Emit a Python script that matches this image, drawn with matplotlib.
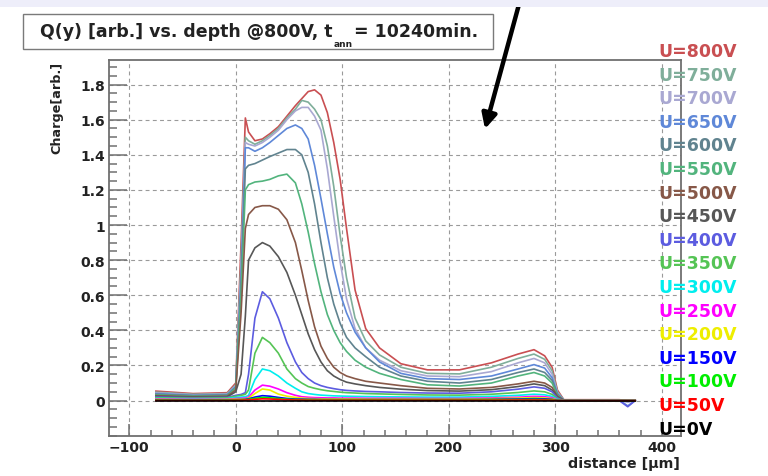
import numpy as np
import matplotlib
matplotlib.use("Agg")
import matplotlib.pyplot as plt
from matplotlib.patches import Rectangle
from matplotlib.text import Annotation
from matplotlib.ticker import MultipleLocator

plt.rcParams['font.family'] = ['DejaVu Sans']
plt.rcParams['font.weight'] = 'bold'

W, H = 768, 477

# ---- charge profiles vs depth (arb. units), one per bias voltage ----
depth = [-75, -40, -8, 0, 5, 9, 12, 18, 25, 32, 40, 48, 56, 62, 68, 74, 80, 86, 92, 98,
         104, 112, 122, 135, 155, 180, 210, 240, 265, 280, 290, 297, 302, 308, 360, 368, 375]

q800 = [0.054, 0.040, 0.045, 0.10, 0.90, 1.61, 1.53, 1.48, 1.49, 1.52, 1.56, 1.62, 1.68, 1.72, 1.76, 1.77, 1.74, 1.64, 1.47, 1.26,
        0.98, 0.63, 0.41, 0.30, 0.21, 0.175, 0.175, 0.215, 0.265, 0.29, 0.255, 0.19, 0.06, 0.005, 0.005, 0.0, 0.0]
q750 = [0.048, 0.036, 0.040, 0.09, 0.80, 1.50, 1.48, 1.46, 1.48, 1.51, 1.55, 1.61, 1.66, 1.71, 1.70, 1.66, 1.60, 1.45, 1.22, 0.94,
        0.70, 0.47, 0.34, 0.26, 0.19, 0.155, 0.152, 0.19, 0.24, 0.265, 0.235, 0.17, 0.05, 0.004, 0.004, 0.0, 0.0]
q700 = [0.044, 0.033, 0.037, 0.085, 0.75, 1.47, 1.46, 1.45, 1.47, 1.50, 1.54, 1.60, 1.65, 1.67, 1.67, 1.62, 1.54, 1.32, 1.05, 0.79,
        0.58, 0.41, 0.30, 0.23, 0.17, 0.14, 0.136, 0.165, 0.215, 0.24, 0.215, 0.15, 0.045, 0.003, 0.003, -0.01, 0.0]
q650 = [0.040, 0.030, 0.034, 0.08, 0.70, 1.44, 1.44, 1.42, 1.44, 1.47, 1.51, 1.55, 1.57, 1.55, 1.49, 1.34, 1.15, 0.95, 0.76, 0.61,
        0.50, 0.39, 0.30, 0.22, 0.155, 0.125, 0.12, 0.14, 0.18, 0.205, 0.185, 0.13, 0.04, 0.003, 0.003, -0.03, 0.0]
q600 = [0.036, 0.028, 0.031, 0.075, 0.65, 1.32, 1.34, 1.35, 1.37, 1.39, 1.41, 1.43, 1.43, 1.40, 1.30, 1.12, 0.90, 0.70, 0.55, 0.44,
        0.36, 0.30, 0.25, 0.19, 0.14, 0.11, 0.10, 0.12, 0.16, 0.18, 0.16, 0.115, 0.035, 0.002, 0.002, 0.0, 0.0]
q550 = [0.032, 0.025, 0.028, 0.07, 0.60, 1.20, 1.23, 1.245, 1.25, 1.26, 1.28, 1.29, 1.24, 1.12, 0.96, 0.78, 0.62, 0.49, 0.40, 0.33,
        0.28, 0.23, 0.19, 0.155, 0.12, 0.09, 0.083, 0.10, 0.14, 0.16, 0.14, 0.10, 0.03, 0.002, 0.002, 0.0, 0.0]
q500 = [0.028, 0.022, 0.025, 0.06, 0.50, 0.98, 1.06, 1.10, 1.11, 1.11, 1.09, 1.03, 0.90, 0.74, 0.57, 0.42, 0.31, 0.24, 0.19, 0.16,
        0.14, 0.125, 0.11, 0.10, 0.085, 0.07, 0.066, 0.075, 0.095, 0.11, 0.10, 0.075, 0.025, 0.002, 0.002, 0.0, 0.0]
q450 = [0.024, 0.019, 0.021, 0.05, 0.15, 0.48, 0.80, 0.87, 0.90, 0.88, 0.82, 0.73, 0.60, 0.49, 0.38, 0.29, 0.22, 0.17, 0.14, 0.12,
        0.105, 0.095, 0.085, 0.075, 0.065, 0.057, 0.054, 0.062, 0.08, 0.095, 0.085, 0.06, 0.02, 0.001, 0.001, 0.0, 0.0]
q400 = [0.020, 0.016, 0.018, 0.03, 0.035, 0.045, 0.15, 0.47, 0.62, 0.58, 0.47, 0.33, 0.22, 0.16, 0.125, 0.10, 0.085, 0.075, 0.068, 0.062,
        0.058, 0.055, 0.052, 0.05, 0.046, 0.043, 0.042, 0.05, 0.065, 0.078, 0.07, 0.05, 0.015, 0.0, 0.0, -0.035, 0.0]
q350 = [0.016, 0.013, 0.015, 0.025, 0.03, 0.035, 0.06, 0.27, 0.36, 0.33, 0.27, 0.18, 0.125, 0.10, 0.08, 0.07, 0.062, 0.056, 0.052, 0.048,
        0.045, 0.043, 0.04, 0.038, 0.035, 0.032, 0.031, 0.036, 0.046, 0.055, 0.05, 0.035, 0.01, 0.0, 0.0, 0.0, 0.0]
q300 = [0.012, 0.010, 0.011, 0.018, 0.02, 0.022, 0.03, 0.12, 0.18, 0.17, 0.14, 0.10, 0.07, 0.05, 0.04, 0.035, 0.031, 0.029, 0.027, 0.026,
        0.025, 0.024, 0.023, 0.022, 0.021, 0.02, 0.02, 0.024, 0.03, 0.036, 0.033, 0.024, 0.007, 0.0, 0.0, 0.0, 0.0]
q250 = [0.009, 0.007, 0.008, 0.012, 0.013, 0.014, 0.02, 0.06, 0.088, 0.082, 0.066, 0.045, 0.03, 0.022, 0.019, 0.017, 0.016, 0.015, 0.015, 0.014,
        0.014, 0.014, 0.013, 0.013, 0.013, 0.012, 0.012, 0.015, 0.019, 0.024, 0.022, 0.016, 0.005, 0.0, 0.0, 0.0, 0.0]
q200 = [0.006, 0.005, 0.006, 0.008, 0.009, 0.01, 0.014, 0.04, 0.066, 0.06, 0.037, 0.025, 0.018, 0.014, 0.012, 0.011, 0.01, 0.01, 0.01, 0.01,
        0.01, 0.01, 0.009, 0.009, 0.009, 0.009, 0.009, 0.011, 0.014, 0.017, 0.015, 0.011, 0.003, 0.0, 0.0, 0.0, 0.0]
q150 = [0.004, 0.003, 0.004, 0.005, 0.006, 0.007, 0.01, 0.02, 0.028, 0.025, 0.018, 0.012, 0.009, 0.008, 0.007, 0.007, 0.006, 0.006, 0.006, 0.006,
        0.006, 0.006, 0.006, 0.006, 0.006, 0.006, 0.006, 0.007, 0.009, 0.011, 0.01, 0.007, 0.002, 0.0, 0.0, 0.0, 0.0]
q100 = [0.003, 0.002, 0.003, 0.004, 0.004, 0.005, 0.007, 0.013, 0.018, 0.016, 0.012, 0.008, 0.006, 0.005, 0.005, 0.004, 0.004, 0.004, 0.004, 0.004,
        0.004, 0.004, 0.004, 0.004, 0.004, 0.004, 0.004, 0.005, 0.006, 0.007, 0.006, 0.005, 0.001, 0.0, 0.0, 0.0, 0.0]
q50 = [0.001, 0.001, 0.001, 0.002, 0.002, 0.003, 0.004, 0.007, 0.010, 0.009, 0.007, 0.005, 0.003, 0.003, 0.002, 0.002, 0.002, 0.002, 0.002, 0.002,
       0.002, 0.002, 0.002, 0.002, 0.002, 0.002, 0.002, 0.002, 0.003, 0.003, 0.003, 0.002, 0.0, 0.0, 0.0, 0.0, 0.0]
q0 = [0.0] * len(depth)

volts = [800, 750, 700, 650, 600, 550, 500, 450, 400, 350, 300, 250, 200, 150, 100, 50, 0]
charges = [q800, q750, q700, q650, q600, q550, q500, q450, q400, q350, q300, q250, q200, q150, q100, q50, q0]
colors = ['#c94f52', '#7fae9a', '#a9a8d2', '#5f88d8', '#60838f', '#52b47d', '#875848', '#575757',
          '#5c5ce0', '#55c455', '#00eeee', '#ff00ff', '#eeee00', '#0000ff', '#00ee00', '#ff0000', '#000000']

fig = plt.figure(figsize=(W / 100, H / 100), dpi=100)
fig.patch.set_facecolor('white')

def fx(x):
    return x / W

def fy(y):
    return 1 - y / H

# light band at top of the slide
fig.patches.append(Rectangle((0, fy(8)), 1, 8 / H, transform=fig.transFigure,
                             facecolor='#eeeefa', edgecolor='none', zorder=0))

ax = fig.add_axes([fx(109), fy(436.7), (681 - 109) / W, (436.7 - 61) / H])
ax.set_xlim(-119, 418)
ax.set_ylim(-0.2, 1.94)

for v, q, c in zip(volts, charges, colors):
    ax.plot(depth, q, color=c, lw=1.2, zorder=3)

# ROOT-like frame, ticks and dashed grid
frame_col = '#707070'
for s in ax.spines.values():
    s.set_color(frame_col)
    s.set_linewidth(1.3)
ax.xaxis.set_major_locator(MultipleLocator(100))
ax.xaxis.set_minor_locator(MultipleLocator(20))
ax.yaxis.set_minor_locator(MultipleLocator(0.05))
ax.tick_params(axis='both', which='both', direction='in', color=frame_col, width=1.1,
               labelcolor='#222222', labelsize=10)
ax.tick_params(axis='y', which='major', length=13, pad=3)
ax.tick_params(axis='y', which='minor', length=6)
ax.tick_params(axis='x', which='major', length=9, pad=3)
ax.tick_params(axis='x', which='minor', length=4.5)
ax.set_yticks(np.arange(0, 1.81, 0.2))
ax.set_yticklabels(['0', '0.2', '0.4', '0.6', '0.8', '1', '1.2', '1.4', '1.6', '1.8'])
ax.grid(True, which='major', color='#9a9a9a', linestyle=(0, (3.5, 3)), linewidth=0.8)
ax.set_axisbelow(True)
for lab in ax.get_xticklabels() + ax.get_yticklabels():
    lab.set_fontweight('bold')

fig.text(fx(57), fy(62), 'Charge[arb.]', rotation=90, ha='center', va='top',
         fontsize=9.2, fontweight='bold', color='#222222')
fig.text(fx(680), fy(464), 'distance [µm]', ha='right', va='center',
         fontsize=10.3, fontweight='bold', color='#222222')

# title box with subscripted annealing time
fig.patches.append(Rectangle((fx(23), fy(50)), (493 - 23) / W, 35 / H, transform=fig.transFigure,
                             facecolor='white', edgecolor='#7a7a7a', lw=1.0, zorder=1))
t1 = fig.text(fx(40), fy(37), 'Q(y) [arb.] vs. depth @800V, t', ha='left', va='baseline',
              fontsize=12.5, fontweight='bold', color='#222222', zorder=2)
sub = Annotation('ann', xy=(1, 0), xycoords=t1, xytext=(0.5, 0.5), textcoords='offset points',
                 ha='left', va='top', fontsize=6.5, fontweight='bold', color='#222222')
sub.set_zorder(2)
fig.add_artist(sub)
rest = Annotation('= 10240min.', xy=(1, fy(37)), xycoords=(sub, 'figure fraction'), xytext=(1, 0),
                  textcoords='offset points', ha='left', va='baseline', fontsize=12.5,
                  fontweight='bold', color='#222222')
rest.set_zorder(2)
fig.add_artist(rest)

# voltage labels along the right edge
for i, (v, c) in enumerate(zip(volts, colors)):
    fig.text(fx(658), fy(52 + 23.6 * i), f'U={v}V', ha='left', va='center',
             fontsize=12.5, fontweight='bold', color=c, zorder=5)

# pointer arrow from the top
ax.annotate('', xy=(485, H - 130), xycoords='figure pixels',
            xytext=(521, H + 2), textcoords='figure pixels',
            arrowprops=dict(arrowstyle='-|>', color='black', lw=3.2, mutation_scale=22,
                            shrinkA=0, shrinkB=0),
            annotation_clip=False)

fig.savefig('out.png', dpi=100, facecolor='white')
